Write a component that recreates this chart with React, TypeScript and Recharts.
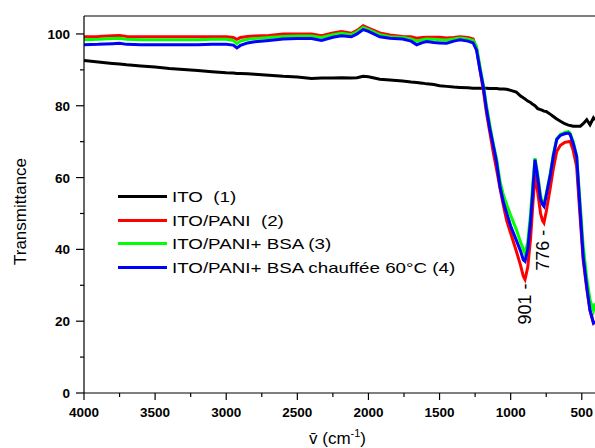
import * as React from 'react';
import { LineChart, Line, XAxis, YAxis, ReferenceLine, ReferenceDot } from 'recharts';

// wavenumber grid (cm-1)
const wavenumbers = [
  4000, 3900, 3800, 3750, 3700, 3600, 3500, 3400, 3300, 3200, 3100, 3000, 2950, 2925, 2900, 2850,
  2800, 2700, 2600, 2500, 2400, 2330, 2250, 2190, 2120, 2080, 2037, 2000, 1920, 1850, 1760, 1700,
  1661, 1620, 1590, 1540, 1500, 1450, 1400, 1357, 1300, 1264, 1240, 1216, 1193, 1170, 1146, 1120,
  1100, 1075, 1050, 1028, 1000, 960, 930, 911, 899, 880, 860, 845, 829, 810, 790, 776, 766, 750,
  720, 700, 676, 650, 620, 594, 582, 560, 536, 510, 490, 465, 442, 418, 407,
];

const ito = [
  92.6, 92.2, 91.8, 91.6, 91.4, 91.1, 90.8, 90.4, 90.1, 89.8, 89.5, 89.2, 89.1, 89.0, 89.0, 88.9,
  88.8, 88.5, 88.2, 88.0, 87.6, 87.7, 87.7, 87.8, 87.7, 87.8, 88.2, 88.1, 87.4, 87.2, 86.9, 86.6,
  86.5, 86.3, 86.1, 85.9, 85.6, 85.4, 85.2, 85.1, 85.0, 84.9, 84.9, 84.9, 84.9, 84.9, 84.8, 84.8,
  84.8, 84.7, 84.7, 84.6, 84.3, 83.8, 82.7, 82.2, 81.9, 81.3, 80.9, 80.4, 80.0, 79.2, 78.9, 78.7,
  78.5, 78.4, 77.6, 77.0, 76.3, 75.7, 75.0, 74.6, 74.5, 74.3, 74.3, 74.3, 75.0, 76.1, 74.7, 76.6, 76.0,
];

const itoPani = [
  99.2, 99.3, 99.5, 99.6, 99.3, 99.2, 99.2, 99.2, 99.2, 99.2, 99.2, 99.2, 99.0, 98.5, 99.0, 99.3,
  99.4, 99.6, 100.0, 100.0, 100.0, 99.5, 100.3, 100.7, 100.2, 101.0, 102.3, 101.6, 100.3, 99.7, 99.3, 99.2,
  98.8, 99.0, 99.1, 99.1, 99.1, 98.9, 99.0, 99.2, 99.0, 98.6, 96.0, 90.0, 84.5, 78.0, 72.5, 66.5,
  62.5, 57.0, 52.0, 48.0, 44.5, 39.5, 35.5, 32.5, 31.6, 35.0, 43.0, 52.0, 60.8, 56.0, 50.0, 48.0,
  47.4, 50.5, 57.5, 62.5, 67.3, 69.0, 69.8, 70.0, 70.1, 67.5, 63.0, 48.0, 37.0, 29.0, 23.0, 19.5, 19.5,
];

const itoPaniBsa = [
  98.4, 98.5, 98.7, 98.8, 98.5, 98.4, 98.4, 98.4, 98.4, 98.4, 98.5, 98.5, 98.2, 97.3, 98.0, 98.5,
  98.7, 99.0, 99.3, 99.4, 99.4, 99.0, 99.8, 100.2, 99.8, 100.6, 101.8, 101.2, 99.8, 99.2, 99.0, 98.6,
  98.0, 98.4, 98.6, 98.5, 98.4, 98.3, 98.6, 98.9, 98.6, 98.2, 96.5, 91.0, 86.0, 80.0, 74.5, 69.0,
  65.5, 59.0, 55.0, 52.5, 49.5, 45.5, 42.0, 40.0, 38.8, 42.0, 50.0, 58.0, 65.4, 61.0, 55.0, 53.0,
  52.4, 55.5, 61.5, 66.5, 70.8, 72.0, 72.6, 72.8, 72.4, 70.0, 66.0, 52.0, 41.0, 32.0, 26.0, 23.0, 25.0,
];

const itoPaniBsaHeated = [
  97.0, 97.1, 97.3, 97.4, 97.1, 97.0, 97.0, 97.0, 97.0, 97.0, 97.1, 97.1, 96.9, 96.1, 96.8, 97.5,
  97.8, 98.2, 98.6, 98.7, 98.7, 98.2, 99.1, 99.5, 99.2, 100.0, 101.2, 100.7, 99.2, 98.8, 98.6, 98.0,
  97.0, 97.6, 97.9, 97.6, 97.5, 97.4, 98.0, 98.4, 98.0, 97.5, 95.5, 90.1, 85.4, 79.0, 73.5, 68.5,
  64.5, 57.5, 53.0, 50.1, 46.5, 42.5, 39.5, 37.1, 36.7, 40.0, 48.0, 56.0, 65.0, 60.0, 54.0, 52.5,
  52.0, 55.0, 61.0, 66.0, 70.6, 71.8, 72.2, 72.4, 72.0, 69.5, 65.9, 50.0, 38.0, 29.7, 23.0, 19.5, 20.0,
];

const seriesNames = [
  'ITO  (1)',
  'ITO/PANI  (2)',
  'ITO/PANI+ BSA (3)',
  'ITO/PANI+ BSA chauffée 60°C (4)',
];
const seriesColors = ['#000000', '#ff0000', '#00ff00', '#0000ff'];

const xTicks = [4000, 3750, 3500, 3250, 3000, 2750, 2500, 2250, 2000, 1750, 1500, 1250, 1000, 750, 500];
const yTicks = [0, 10, 20, 30, 40, 50, 60, 70, 80, 90, 100];

const peaks = [
  { wn: 901, label: '901 -', at: 30.5 },
  { wn: 776, label: '776 -', at: 45.5 },
];

const data = wavenumbers.map((wn, i) => ({
  wn,
  s1: ito[i],
  s2: itoPani[i],
  s3: itoPaniBsa[i],
  s4: itoPaniBsaHeated[i],
}));

const FONT = '"Liberation Sans", Arial, sans-serif';

function XTick(props: any) {
  const { x, y, payload } = props;
  const major = payload.value % 500 === 0;
  return (
    <g>
      <line x1={x} x2={x} y1={y} y2={y + (major ? 7 : 4)} stroke="#000" strokeWidth={1.2} />
      {major && (
        <text x={x} y={y + 24} textAnchor="middle" fontSize={13.5} fontWeight="bold" fill="#000" fontFamily={FONT}>
          {payload.value}
        </text>
      )}
    </g>
  );
}

function YTick(props: any) {
  const { x, y, payload } = props;
  const major = payload.value % 20 === 0;
  return (
    <g>
      <line x1={x} x2={x - (major ? 8 : 4)} y1={y} y2={y} stroke="#000" strokeWidth={1.2} />
      {major && (
        <text x={x - 14} y={y + 5} textAnchor="end" fontSize={13.5} fontWeight="bold" fill="#000" fontFamily={FONT}>
          {payload.value}
        </text>
      )}
    </g>
  );
}

function LegendBox() {
  return (
    <div style={{ position: 'absolute', left: 118, top: 185, fontFamily: FONT, fontSize: 15, color: '#000' }}>
      {seriesNames.map((name, i) => (
        <div key={name} style={{ display: 'flex', alignItems: 'center', height: 23.5 }}>
          <div style={{ width: 49, height: 3, background: seriesColors[i] }} />
          <span style={{ marginLeft: 5, whiteSpace: 'pre', display: 'inline-block', transform: 'scaleX(1.25)', transformOrigin: 'left center' }}>
            {name}
          </span>
        </div>
      ))}
    </div>
  );
}

export default function App() {
  return (
    <div style={{ position: 'fixed', left: 0, top: 0, width: 595, height: 448, overflow: 'hidden', background: '#fff', fontFamily: FONT }}>
      <LineChart width={595} height={448} data={data} margin={{ top: 16, right: 0, bottom: 0, left: 0 }}>
        <XAxis
          dataKey="wn"
          type="number"
          domain={[407, 4000]}
          reversed
          allowDataOverflow
          ticks={xTicks}
          interval={0}
          tickSize={0}
          tickMargin={0}
          tick={<XTick />}
          height={55}
          axisLine={{ stroke: '#000', strokeWidth: 1.2 }}
          label={{
            content: (p: any) => {
              const vb = p.viewBox || { x: 84, y: 393, width: 511, height: 55 };
              return (
                <text x={vb.x + vb.width / 2 - 2} y={vb.y + 51} textAnchor="middle" fontSize={17} fill="#000" fontFamily={FONT}>
                  {'v\u0304 (cm'}
                  <tspan fontSize={11} dy={-7}>-1</tspan>
                  <tspan dy={7}>)</tspan>
                </text>
              );
            },
          }}
        />
        <YAxis
          type="number"
          domain={[0, 105]}
          ticks={yTicks}
          interval={0}
          tickSize={0}
          tickMargin={0}
          tick={<YTick />}
          width={84}
          axisLine={{ stroke: '#000', strokeWidth: 1.2 }}
          label={{
            content: (p: any) => {
              const vb = p.viewBox || { x: 0, y: 16, width: 84, height: 377 };
              const cx = vb.x + 20;
              const cy = vb.y + vb.height / 2 + 7;
              return (
                <text x={cx} y={cy} transform={`rotate(-90 ${cx} ${cy})`} textAnchor="middle" dominantBaseline="central" fontSize={17} fill="#000" fontFamily={FONT}>
                  Transmittance
                </text>
              );
            },
          }}
        />
        <ReferenceLine y={105} stroke="#000" strokeWidth={1.2} />
        <Line dataKey="s1" name={seriesNames[0]} stroke={seriesColors[0]} strokeWidth={3} dot={false} isAnimationActive={false} />
        <Line dataKey="s2" name={seriesNames[1]} stroke={seriesColors[1]} strokeWidth={3} dot={false} isAnimationActive={false} />
        <Line dataKey="s3" name={seriesNames[2]} stroke={seriesColors[2]} strokeWidth={3} dot={false} isAnimationActive={false} />
        <Line dataKey="s4" name={seriesNames[3]} stroke={seriesColors[3]} strokeWidth={3} dot={false} isAnimationActive={false} />
        {peaks.map((pk) => (
          <ReferenceDot
            key={pk.wn}
            x={pk.wn}
            y={pk.at}
            r={0}
            shape={(p: any) => (
              <text
                x={p.cx}
                y={p.cy}
                transform={`rotate(-90 ${p.cx} ${p.cy})`}
                textAnchor="end"
                dominantBaseline="central"
                fontSize={18}
                fill="#000"
                fontFamily={FONT}
              >
                {pk.label}
              </text>
            )}
          />
        ))}
      </LineChart>
      <LegendBox />
    </div>
  );
}
